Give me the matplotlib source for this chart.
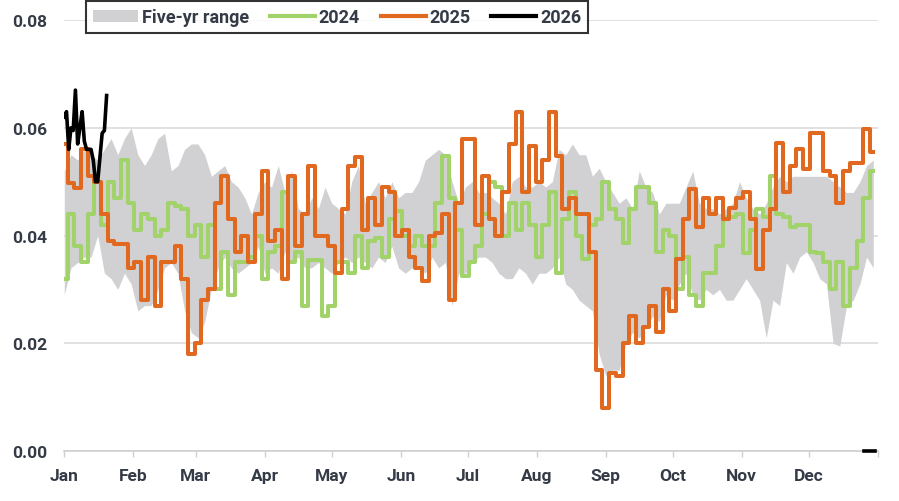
import numpy as np
import matplotlib
matplotlib.use("Agg")
import matplotlib.pyplot as plt
from matplotlib.patches import Patch
from matplotlib.lines import Line2D

plt.rcParams["font.family"] = ["Roboto", "DejaVu Sans"]
plt.rcParams["font.weight"] = "bold"

# day-of-year, every third day
days = np.arange(0, 365, 3)

range_hi = [
    0.052, 0.055, 0.054, 0.056, 0.055, 0.054, 0.056, 0.058, 0.055, 0.058,
    0.060, 0.055, 0.053, 0.055, 0.058, 0.059, 0.052, 0.053, 0.056, 0.057,
    0.057, 0.055, 0.051, 0.052, 0.053, 0.050, 0.049, 0.047, 0.044, 0.048,
    0.050, 0.049, 0.053, 0.048, 0.052, 0.045, 0.044, 0.047, 0.045, 0.049,
    0.046, 0.045, 0.044, 0.050, 0.053, 0.046, 0.048, 0.050, 0.047, 0.050,
    0.047, 0.048, 0.048, 0.050, 0.054, 0.055, 0.056, 0.055, 0.050, 0.046,
    0.049, 0.050, 0.048, 0.048, 0.047, 0.046, 0.044, 0.050, 0.051, 0.049,
    0.049, 0.050, 0.049, 0.050, 0.056, 0.055, 0.057, 0.055, 0.055, 0.051,
    0.0525, 0.050, 0.048, 0.046, 0.047, 0.045, 0.052, 0.049, 0.048, 0.044,
    0.046, 0.046, 0.046, 0.049, 0.052, 0.046, 0.045, 0.045, 0.044, 0.045,
    0.046, 0.050, 0.047, 0.045, 0.044, 0.046, 0.049, 0.051, 0.050, 0.051,
    0.051, 0.051, 0.051, 0.051, 0.051, 0.050, 0.049, 0.048, 0.048, 0.050,
    0.053, 0.054,
]

range_lo = [
    0.029, 0.034, 0.035, 0.036, 0.036, 0.040, 0.033, 0.032, 0.030, 0.033,
    0.031, 0.026, 0.027, 0.027, 0.030, 0.034, 0.035, 0.033, 0.026, 0.022,
    0.021, 0.024, 0.030, 0.034, 0.036, 0.034, 0.033, 0.034, 0.035, 0.038,
    0.033, 0.034, 0.033, 0.037, 0.035, 0.036, 0.034, 0.034, 0.035, 0.034,
    0.033, 0.035, 0.036, 0.035, 0.036, 0.035, 0.034, 0.036, 0.035, 0.038,
    0.034, 0.033, 0.034, 0.034, 0.033, 0.036, 0.034, 0.035, 0.027, 0.033,
    0.033, 0.035, 0.036, 0.036, 0.035, 0.033, 0.032, 0.032, 0.034, 0.033,
    0.031, 0.033, 0.033, 0.034, 0.036, 0.031, 0.030, 0.028, 0.027, 0.026,
    0.018, 0.014, 0.015, 0.015, 0.020, 0.022, 0.021, 0.023, 0.025, 0.024,
    0.029, 0.028, 0.031, 0.033, 0.029, 0.028, 0.030, 0.029, 0.030, 0.028,
    0.028, 0.030, 0.032, 0.030, 0.028, 0.021, 0.028, 0.027, 0.035, 0.033,
    0.036, 0.037, 0.035, 0.032, 0.031, 0.020, 0.0195, 0.027, 0.028, 0.031,
    0.036, 0.034,
]

y2024 = [
    0.032, 0.044, 0.038, 0.035, 0.044, 0.050, 0.042, 0.050, 0.047, 0.054,
    0.046, 0.041, 0.044, 0.043, 0.040, 0.041, 0.046, 0.0455, 0.045, 0.040,
    0.042, 0.036, 0.042, 0.030, 0.037, 0.029, 0.035, 0.035, 0.036, 0.040,
    0.032, 0.037, 0.038, 0.048, 0.035, 0.037, 0.027, 0.0355, 0.0355, 0.025,
    0.027, 0.035, 0.035, 0.033, 0.040, 0.034, 0.039, 0.0395, 0.036, 0.043,
    0.0445, 0.040, 0.038, 0.040, 0.038, 0.038, 0.046, 0.0548, 0.047, 0.041,
    0.0325, 0.035, 0.038, 0.044, 0.050, 0.049, 0.040, 0.046, 0.041, 0.046,
    0.042, 0.036, 0.042, 0.048, 0.033, 0.043, 0.048, 0.040, 0.0356, 0.042,
    0.043, 0.050, 0.045, 0.043, 0.0387, 0.045, 0.049, 0.049, 0.046, 0.037,
    0.041, 0.040, 0.030, 0.036, 0.029, 0.027, 0.033, 0.033, 0.038, 0.0435,
    0.0435, 0.044, 0.0368, 0.041, 0.045, 0.0435, 0.051, 0.044, 0.0435, 0.0415,
    0.042, 0.042, 0.037, 0.0368, 0.035, 0.030, 0.035, 0.027, 0.034, 0.039,
    0.047, 0.052,
]

y2025 = [
    0.057, 0.0498, 0.0488, 0.056, 0.051, 0.050, 0.044, 0.039, 0.0384, 0.0384,
    0.034, 0.035, 0.028, 0.036, 0.027, 0.035, 0.035, 0.038, 0.032, 0.018,
    0.020, 0.028, 0.030, 0.046, 0.051, 0.043, 0.037, 0.040, 0.035, 0.044,
    0.052, 0.039, 0.041, 0.032, 0.051, 0.038, 0.044, 0.053, 0.040, 0.040,
    0.038, 0.033, 0.045, 0.053, 0.0545, 0.041, 0.047, 0.042, 0.049, 0.048,
    0.040, 0.041, 0.036, 0.034, 0.0315, 0.040, 0.0405, 0.044, 0.028, 0.046,
    0.058, 0.058, 0.042, 0.051, 0.043, 0.040, 0.048, 0.057, 0.063, 0.048,
    0.0566, 0.050, 0.054, 0.063, 0.0548, 0.045, 0.047, 0.044, 0.044, 0.037,
    0.015, 0.008, 0.0145, 0.014, 0.020, 0.025, 0.020, 0.023, 0.027, 0.022,
    0.030, 0.026, 0.0356, 0.043, 0.0486, 0.0415, 0.047, 0.044, 0.047, 0.043,
    0.0452, 0.047, 0.048, 0.043, 0.0338, 0.041, 0.045, 0.0572, 0.048, 0.0529,
    0.056, 0.0523, 0.059, 0.059, 0.052, 0.051, 0.0461, 0.052, 0.0535, 0.0535,
    0.0597, 0.0555,
]

# 2026 so far (daily) plus the stray zero values at year end
y2026 = [0.062, 0.063, 0.056, 0.060, 0.0595, 0.067, 0.057, 0.060, 0.063, 0.0575,
         0.056, 0.056, 0.056, 0.054, 0.050, 0.050, 0.0545, 0.059, 0.0595, 0.066]
y2026_end = [0.0, 0.0, 0.0, 0.0, 0.0, 0.0]

month_starts = [0, 31, 59, 90, 120, 151, 181, 212, 243, 273, 304, 334]
month_labels = ["Jan", "Feb", "Mar", "Apr", "May", "Jun",
                "Jul", "Aug", "Sep", "Oct", "Nov", "Dec"]

grey = "#d1d0d2"
green = "#a1d36a"
orange = "#e0691f"
txt = "#343b46"

fig = plt.figure(figsize=(8.99, 5.02), dpi=100)
ax = fig.add_axes([0.0715, 0.0996, 0.9048, 0.8584])

ax.fill_between(days, range_lo, range_hi, color=grey, lw=0, zorder=1)
ax.plot(days, y2024, color=green, lw=2.9, zorder=3, drawstyle="steps-mid")
ax.plot(days, y2025, color=orange, lw=2.9, zorder=4, drawstyle="steps-mid")
ax.plot(np.arange(len(y2026)), y2026, color="black", lw=2.6, zorder=5,
        solid_joinstyle="round")
ax.plot(np.arange(359, 365), y2026_end, color="black", lw=2.6, zorder=5,
        clip_on=False)

ax.set_xlim(0, 365)
ax.set_ylim(0, 0.08)
ax.set_yticks([0, 0.02, 0.04, 0.06, 0.08])
ax.set_yticklabels(["0.00", "0.02", "0.04", "0.06", "0.08"])
ax.set_xticks(month_starts + [365])
ax.set_xticklabels(month_labels + [""])

ax.grid(axis="y", color="#d9d9d9", lw=1.1, zorder=0)
ax.set_axisbelow(True)
for s in ["left", "right", "top"]:
    ax.spines[s].set_visible(False)
ax.spines["bottom"].set_color("#cfcfcf")
ax.spines["bottom"].set_linewidth(1.2)

ax.tick_params(axis="y", length=0, pad=12, labelsize=12.5, labelcolor=txt)
ax.tick_params(axis="x", length=4, width=1, color="#cfcfcf", pad=8,
               labelsize=12.5, labelcolor=txt)

handles = [
    Patch(facecolor=grey, edgecolor="none"),
    Line2D([], [], color=green, lw=3),
    Line2D([], [], color=orange, lw=3),
    Line2D([], [], color="black", lw=3),
]
leg = fig.legend(handles, ["Five-yr range", "2024", "2025", "2026"],
                 loc="upper center", bbox_to_anchor=(0.375, 0.996), ncol=4,
                 frameon=True, fancybox=False, fontsize=13,
                 handlelength=2.5, handleheight=0.6, handletextpad=0.2,
                 columnspacing=1.15, borderpad=0.4, borderaxespad=0,
                 labelcolor=txt)
leg.get_frame().set_edgecolor("black")
leg.get_frame().set_linewidth(1.5)

fig.savefig("out.png", dpi=100)
